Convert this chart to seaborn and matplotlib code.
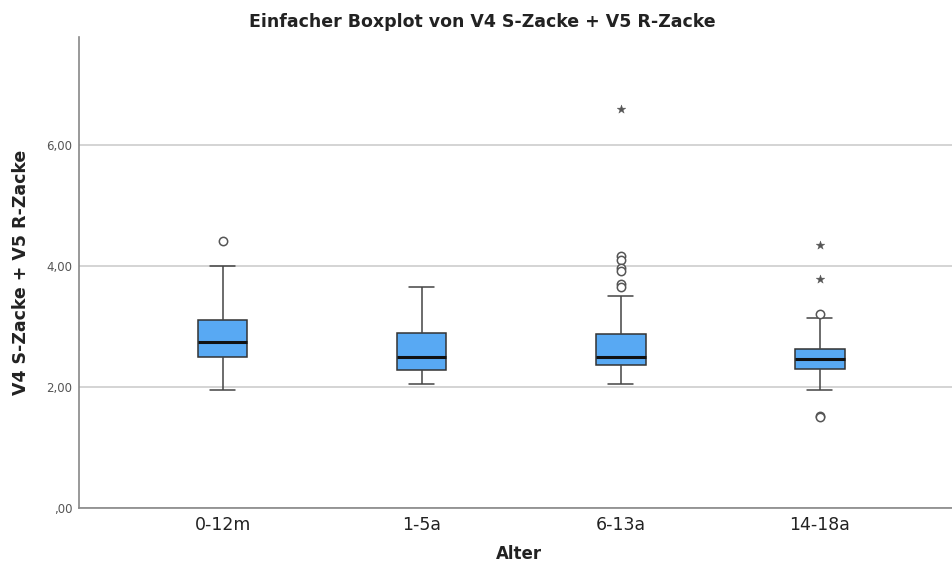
import matplotlib
matplotlib.use('Agg')
import matplotlib.pyplot as plt
import pandas as pd
import seaborn as sns
from matplotlib.ticker import FixedLocator

# Age groups (x categories)
groups = ['0-12m', '1-5a', '6-13a', '14-18a']

# Five-number summaries (whisker low, Q1, median, Q3, whisker high)
whisker_low = [1.96, 2.05, 2.05, 1.95]
q1 = [2.50, 2.29, 2.36, 2.30]
median = [2.75, 2.50, 2.49, 2.47]
q3 = [3.11, 2.89, 2.87, 2.63]
whisker_high = [4.00, 3.65, 3.51, 3.14]

# Outliers (circles) and extreme values (stars)
outlier_group = ['0-12m', '6-13a', '6-13a', '6-13a', '6-13a', '6-13a', '6-13a',
                 '14-18a', '14-18a', '14-18a']
outlier_value = [4.41, 4.16, 4.10, 3.97, 3.92, 3.70, 3.66, 3.21, 1.52, 1.50]
extreme_group = ['6-13a', '14-18a', '14-18a']
extreme_value = [6.60, 4.35, 3.78]

y_ticks = [0, 2, 4, 6]
y_tick_labels = [',00', '2,00', '4,00', '6,00']

# Build long table for seaborn
rows = []
for i, g in enumerate(groups):
    for v in (whisker_low[i], q1[i], median[i], q3[i], whisker_high[i]):
        rows.append({'Alter': g, 'value': v})
df = pd.DataFrame(rows)
df_out = pd.DataFrame({'Alter': outlier_group, 'value': outlier_value})
df_ext = pd.DataFrame({'Alter': extreme_group, 'value': extreme_value})

sns.set_style('white')
plt.rcParams['font.family'] = ['DejaVu Sans']

fig = plt.figure(figsize=(9.53, 5.68), dpi=100)
ax = fig.add_axes([0.0832, 0.1056, 0.9168, 0.8293])

sns.boxplot(data=df, x='Alter', y='value', order=groups, ax=ax,
            whis=(0, 100), showfliers=False, width=0.25, saturation=1,
            color='#58a9f3', linewidth=1.1, linecolor='#333333',
            medianprops={'color': '#111111', 'linewidth': 2.2},
            whiskerprops={'color': '#444444'},
            capprops={'color': '#444444'})

sns.stripplot(data=df_out, x='Alter', y='value', order=groups, ax=ax,
              jitter=False, marker='o', size=6, color='white',
              edgecolor='#555555', linewidth=1.1, zorder=5)
sns.stripplot(data=df_ext, x='Alter', y='value', order=groups, ax=ax,
              jitter=False, marker='*', size=6.5, color='#555555',
              edgecolor='#555555', linewidth=0.3, zorder=5)

ax.set_xlim(-0.72, 3.67)
ax.set_ylim(0, 7.79)

ax.set_yticks(y_ticks)
ax.set_yticklabels(y_tick_labels)
ax.yaxis.set_minor_locator(FixedLocator([1, 3, 5, 7]))
ax.tick_params(axis='y', which='major', length=0, labelsize=8.5,
               labelcolor='#555555', pad=5)
ax.tick_params(axis='y', which='minor', length=4, color='#666666', width=1)
ax.tick_params(axis='x', length=0, labelsize=12.5, labelcolor='#222222', pad=6)

ax.grid(axis='y', color='#d4d4d4', linewidth=1.4)
ax.set_axisbelow(True)

for side in ['top', 'right']:
    ax.spines[side].set_visible(False)
for side in ['left', 'bottom']:
    ax.spines[side].set_color('#888888')
    ax.spines[side].set_linewidth(1.2)

fig.text(0.506, 0.962, 'Einfacher Boxplot von V4 S-Zacke + V5 R-Zacke',
         ha='center', va='center', fontsize=12.5, fontweight='bold', color='#222222')
ax.set_xlabel('')
fig.text(0.545, 0.008, 'Alter', ha='center', va='bottom',
         fontsize=12, fontweight='bold', color='#222222')
ax.set_ylabel('V4 S-Zacke + V5 R-Zacke', fontsize=12.5, fontweight='bold',
              color='#222222', labelpad=12)

fig.savefig('out.png', dpi=100)
